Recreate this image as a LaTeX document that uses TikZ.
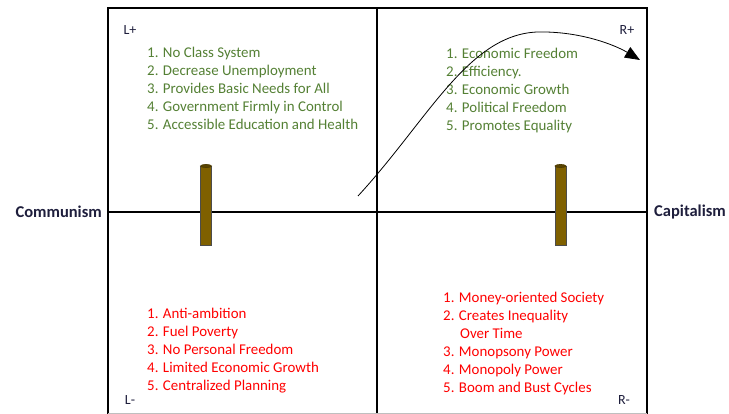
\documentclass[tikz,border=0pt]{standalone}
\usepackage{fontspec}
\setmainfont{Carlito}
\usetikzlibrary{arrows.meta}
\definecolor{listgreen}{RGB}{84,128,52}
\definecolor{listred}{RGB}{255,0,0}
\definecolor{axislabel}{RGB}{30,30,60}
\definecolor{pole}{RGB}{127,96,0}
\tikzset{
  frame/.style={line width=2pt, black},
  axis/.style={line width=2pt, black},
  listtext/.style={font=\fontsize{14.9}{18}\selectfont, align=left, anchor=north west, inner sep=0pt},
  corner/.style={font=\fontsize{14}{16}\selectfont, text=axislabel, inner sep=0pt},
  sidelabel/.style={font=\fontsize{16.5}{18}\selectfont\bfseries, text=axislabel, inner sep=0pt},
  polebody/.style={fill=pole, draw=black!70, line width=0.6pt},
  poletop/.style={fill=pole!70!black, draw=pole!60!black, line width=0.6pt},
}
\begin{document}
\begin{tikzpicture}[x=1pt,y=-1pt]
\useasboundingbox (0,0) rectangle (729,414);
\begin{scope}
\clip (0,0) rectangle (729,414);
% frame and axes
\draw[frame] (108,8) -- (108,420);
\draw[frame] (647,8) -- (647,420);
\draw[frame] (107,8) -- (648,8);
\draw[axis] (377,8) -- (377,420);
\draw[axis] (108,212) -- (647,212);
\end{scope}
\draw[black!25, line width=0.6pt] (108,413) -- (647,413);

% poles
\path[polebody] (200.5,166) rectangle (211.5,245);
\path[polebody] (555,166) rectangle (566,245);
\path[poletop] (206,166) ellipse (5.5pt and 1.6pt);
\path[poletop] (560.5,166) ellipse (5.5pt and 1.6pt);

% side labels
\node[sidelabel, anchor=east] (comm) at (102,212) {Communism};
\node[sidelabel, anchor=west] (cap) at (654,212) {Capitalism};

% corner labels
\node[corner] (lp) at (130,30) {L+};
\node[corner] (rp) at (627,30) {R+};
\node[corner] (lm) at (130,400) {L-};
\node[corner] (rm) at (624,400) {R-};

% lists
\node[listtext, text=listgreen] (tl) at (147,47) {1. No Class System\\2. Decrease Unemployment\\3. Provides Basic Needs for All\\4. Government Firmly in Control\\5. Accessible Education and Health};
\node[listtext, text=listgreen] (tr) at (446,48) {1. Economic Freedom\\2. Efficiency.\\3. Economic Growth\\4. Political Freedom\\5. Promotes Equality};
\node[listtext, text=listred] (bl) at (147,308) {1. Anti-ambition\\2. Fuel Poverty\\3. No Personal Freedom\\4. Limited Economic Growth\\5. Centralized Planning};
\node[listtext, text=listred] (br) at (443,292) {1. Money-oriented Society\\2. Creates Inequality\\\hspace*{17pt}Over Time\\3. Monopsony Power\\4. Monopoly Power\\5. Boom and Bust Cycles};

% arrow
\coordinate (arrS) at (358,196);
\coordinate (arrP) at (537,32);
\coordinate (arrE) at (640,60);
\draw[line width=0.8pt, -{Triangle[length=15pt,width=12pt]}] (arrS) .. controls (428,120) and (468,35) .. (arrP) .. controls (580,31) and (615,45) .. (arrE);
\end{tikzpicture}
\end{document}
